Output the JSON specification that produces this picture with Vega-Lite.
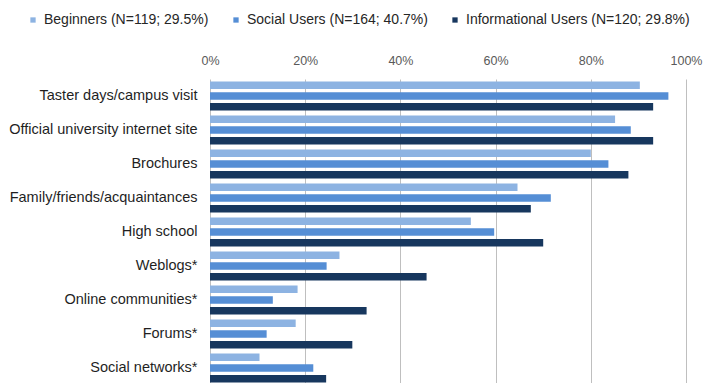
{
  "$schema": "https://vega.github.io/schema/vega-lite/v6.json",
  "autosize": {"type": "none"},
  "padding": {"left": 210, "top": 79, "right": 17, "bottom": 0},
  "width": 476,
  "height": 306,
  "background": "white",
  "config": {"font": "Liberation Sans", "view": {"stroke": null}},
  "data": {"values": [
    {"source": "Taster days/campus visit", "group": "Beginners (N=119; 29.5%)", "value": 0.903},
    {"source": "Taster days/campus visit", "group": "Social Users (N=164; 40.7%)", "value": 0.963},
    {"source": "Taster days/campus visit", "group": "Informational Users (N=120; 29.8%)", "value": 0.931},
    {"source": "Official university internet site", "group": "Beginners (N=119; 29.5%)", "value": 0.851},
    {"source": "Official university internet site", "group": "Social Users (N=164; 40.7%)", "value": 0.884},
    {"source": "Official university internet site", "group": "Informational Users (N=120; 29.8%)", "value": 0.931},
    {"source": "Brochures", "group": "Beginners (N=119; 29.5%)", "value": 0.8},
    {"source": "Brochures", "group": "Social Users (N=164; 40.7%)", "value": 0.837},
    {"source": "Brochures", "group": "Informational Users (N=120; 29.8%)", "value": 0.879},
    {"source": "Family/friends/acquaintances", "group": "Beginners (N=119; 29.5%)", "value": 0.646},
    {"source": "Family/friends/acquaintances", "group": "Social Users (N=164; 40.7%)", "value": 0.716},
    {"source": "Family/friends/acquaintances", "group": "Informational Users (N=120; 29.8%)", "value": 0.674},
    {"source": "High school", "group": "Beginners (N=119; 29.5%)", "value": 0.548},
    {"source": "High school", "group": "Social Users (N=164; 40.7%)", "value": 0.597},
    {"source": "High school", "group": "Informational Users (N=120; 29.8%)", "value": 0.7},
    {"source": "Weblogs*", "group": "Beginners (N=119; 29.5%)", "value": 0.272},
    {"source": "Weblogs*", "group": "Social Users (N=164; 40.7%)", "value": 0.245},
    {"source": "Weblogs*", "group": "Informational Users (N=120; 29.8%)", "value": 0.455},
    {"source": "Online communities*", "group": "Beginners (N=119; 29.5%)", "value": 0.184},
    {"source": "Online communities*", "group": "Social Users (N=164; 40.7%)", "value": 0.132},
    {"source": "Online communities*", "group": "Informational Users (N=120; 29.8%)", "value": 0.329},
    {"source": "Forums*", "group": "Beginners (N=119; 29.5%)", "value": 0.18},
    {"source": "Forums*", "group": "Social Users (N=164; 40.7%)", "value": 0.119},
    {"source": "Forums*", "group": "Informational Users (N=120; 29.8%)", "value": 0.299},
    {"source": "Social networks*", "group": "Beginners (N=119; 29.5%)", "value": 0.104},
    {"source": "Social networks*", "group": "Social Users (N=164; 40.7%)", "value": 0.217},
    {"source": "Social networks*", "group": "Informational Users (N=120; 29.8%)", "value": 0.244}
  ]},
  "mark": {"type": "bar", "cornerRadius": 0},
  "encoding": {
    "y": {
      "field": "source", "type": "nominal", "sort": null, "title": null,
      "scale": {"paddingInner": 0.144, "paddingOuter": 0.072},
      "axis": {"domain": false, "ticks": false, "labelFontSize": 14.5, "labelColor": "#1f1f1f", "labelPadding": 13, "labelLimit": 300}
    },
    "yOffset": {
      "field": "group", "type": "nominal", "sort": null,
      "scale": {"paddingInner": 0.3, "paddingOuter": 0}
    },
    "x": {
      "field": "value", "type": "quantitative", "title": null,
      "scale": {"domain": [0, 1], "nice": false},
      "axis": {"orient": "top", "format": "%", "values": [0, 0.2, 0.4, 0.6, 0.8, 1], "domain": false, "ticks": false,
               "labelFontSize": 12.5, "labelColor": "#595959", "labelPadding": 12, "labelFlush": false,
               "grid": true, "gridColor": "#bfbfbf", "gridWidth": 1}
    },
    "color": {
      "field": "group", "type": "nominal", "sort": null,
      "scale": {"domain": ["Beginners (N=119; 29.5%)", "Social Users (N=164; 40.7%)", "Informational Users (N=120; 29.8%)"],
                "range": ["#8DB3E2", "#558ED5", "#17375E"]},
      "legend": {"orient": "none", "legendX": -184, "legendY": -66, "direction": "horizontal", "title": null,
                 "symbolType": "square", "symbolSize": 28, "symbolStrokeWidth": 0, "labelFontSize": 14, "labelColor": "#262626",
                 "labelLimit": 400, "columnPadding": 20, "labelOffset": 4, "symbolOffset": 0}
    }
  }
}
